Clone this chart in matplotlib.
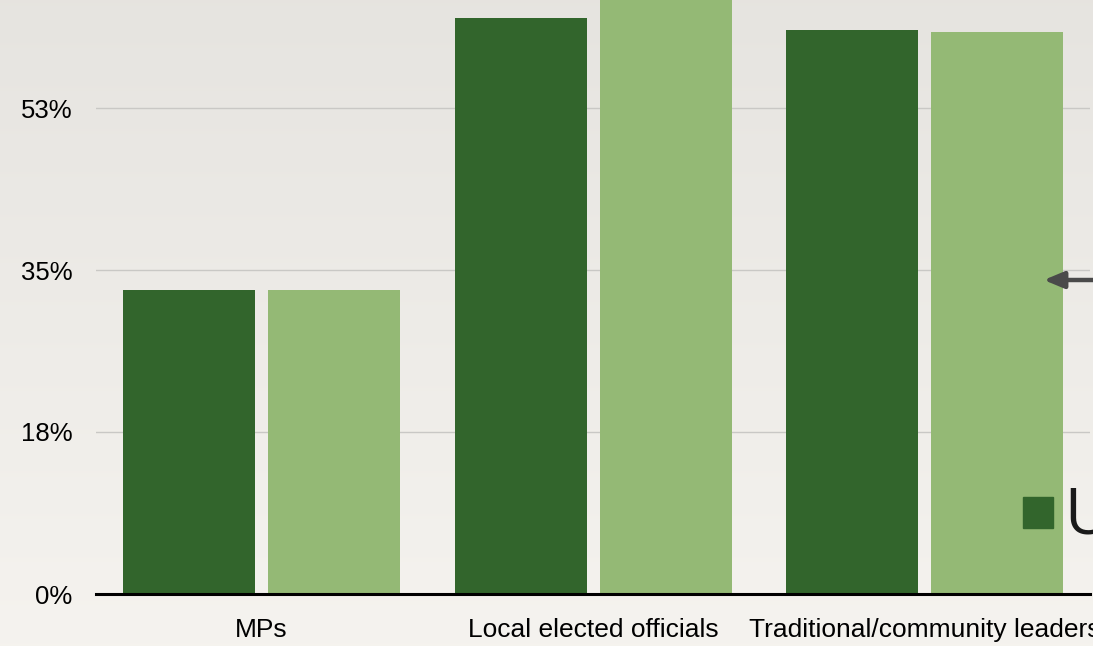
import numpy as np
import matplotlib.pyplot as plt
from matplotlib.patches import Rectangle

# Share of respondents, by type of representative
groups = ['MPs', 'Local elected officials', 'Traditional/community leaders']
urban = [33.2, 62.8, 61.5]
rural = [33.2, 66.0, 61.3]
ytick_vals = [0, 17.67, 35.33, 53.0]
ytick_labels = ['0%', '18%', '35%', '53%']

dark = '#32652c'
light = '#94b975'

plt.rcParams['font.family'] = ['Liberation Sans', 'DejaVu Sans']

W, H = 1093, 646
fig = plt.figure(figsize=(W / 100, H / 100), dpi=100)

# soft paper-like background, a little darker at the top
bg = fig.add_axes([0, 0, 1, 1], zorder=-10)
grad = np.linspace(0, 1, 256).reshape(-1, 1)
top = np.array([0.902, 0.894, 0.878])
bot = np.array([0.961, 0.953, 0.937])
img = top + (bot - top) * grad[..., None]
bg.imshow(img, aspect='auto', extent=[0, 1, 0, 1])
bg.axis('off')

# main axes: runs off the top of the figure so the tallest bar is cut
ymax = 80
px_per_unit = 162 / 17.667
ax_h = ymax * px_per_unit
ax = fig.add_axes([95.75 / W, (H - 594) / H, 994.5 / W, ax_h / H])
ax.patch.set_alpha(0)

x = np.arange(len(groups))
off = 72.5 / 331.5
bw = 132 / 331.5
ax.bar(x - off, urban, bw, color=dark, zorder=3)
ax.bar(x + off, rural, bw, color=light, zorder=3)

ax.set_xlim(-0.5, 2.5)
ax.set_ylim(0, ymax)
ax.set_yticks(ytick_vals)
ax.set_yticklabels(ytick_labels, fontsize=18.5)
ax.set_xticks(x)
ax.set_xticklabels(groups, fontsize=19)
ax.tick_params(length=0)
ax.tick_params(axis='x', pad=17)
ax.tick_params(axis='y', pad=17)
ax.yaxis.grid(True, color='#c9c8c5', linewidth=1)
for s in ['top', 'right', 'left']:
    ax.spines[s].set_visible(False)
ax.spines['bottom'].set_linewidth(2.2)
ax.spines['bottom'].set_color('black')
ax.spines['bottom'].set_zorder(5)

# legend fragment and pointer arrow at the right edge
fig.patches.append(Rectangle((1023 / W, (H - 528) / H), 30 / W, 31 / H,
                             transform=fig.transFigure, color=dark))
fig.text(1064 / W, (H - 534) / H, 'Urban', fontsize=46, color='#1a1a1a',
         family=['Open Sans', 'DejaVu Sans'])
fig.add_artist(plt.Annotation('', xy=(1041 / W, (H - 280) / H), xycoords='figure fraction',
                              xytext=(1140 / W, (H - 280) / H), textcoords='figure fraction',
                              arrowprops=dict(arrowstyle='-|>,head_length=1.2,head_width=0.5',
                                              color='#4a4a4a', lw=3.2)))

fig.savefig('out.png', dpi=100)
